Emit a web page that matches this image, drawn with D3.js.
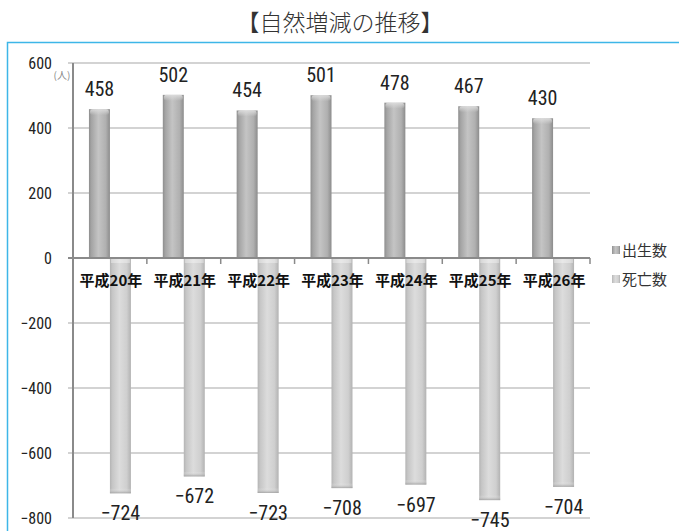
<!DOCTYPE html>
<html><head><meta charset="utf-8">
<script src="https://cdn.jsdelivr.net/npm/d3@7"></script>
<style>body{margin:0;background:#fff}svg{display:block}</style>
</head><body>
<svg id="c" width="679" height="531"></svg>
<script>
const categories = ["平成20年","平成21年","平成22年","平成23年","平成24年","平成25年","平成26年"];
const births = [458,502,454,501,478,467,430];
const deaths = [-724,-672,-723,-708,-697,-745,-704];
const seriesNames = ["出生数","死亡数"];
const yTicks = [600,400,200,0,-200,-400,-600,-800];
const title = "【自然増減の推移】";
const unitLabel = "(人)";

const svg = d3.select("#c");
const numFont = "'Liberation Sans Narrow','Arial Narrow','Roboto Condensed','Liberation Sans',sans-serif";
const jpFont = "'Noto Sans CJK JP','Noto Sans',sans-serif";

const defs = svg.append("defs");
function grad(id, stops){
  const g = defs.append("linearGradient").attr("id", id).attr("x1","0").attr("x2","1").attr("y1","0").attr("y2","0");
  stops.forEach(s => g.append("stop").attr("offset", s[0]).attr("stop-color", s[1]));
}
grad("gb", [[0,"#8e8e8e"],[0.12,"#a4a4a4"],[0.45,"#c4c4c4"],[0.8,"#b0b0b0"],[1,"#8c8c8c"]]);
grad("gd", [[0,"#b4b4b4"],[0.12,"#c6c6c6"],[0.45,"#dcdcdc"],[0.8,"#cfcfcf"],[1,"#b2b2b2"]]);
const vb = defs.append("linearGradient").attr("id","capb").attr("x1","0").attr("x2","0").attr("y1","0").attr("y2","1");
vb.append("stop").attr("offset",0).attr("stop-color","#dedede").attr("stop-opacity",0.9);
vb.append("stop").attr("offset",1).attr("stop-color","#dedede").attr("stop-opacity",0);
const vd = defs.append("linearGradient").attr("id","capd").attr("x1","0").attr("x2","0").attr("y1","0").attr("y2","1");
vd.append("stop").attr("offset",0).attr("stop-color","#ffffff").attr("stop-opacity",0);
vd.append("stop").attr("offset",1).attr("stop-color","#9a9a9a").attr("stop-opacity",0.8);

// frame
svg.append("path").attr("d","M7.5,540 V42.5 H690").attr("fill","none").attr("stroke","#3db6e8").attr("stroke-width",1.5);

// title
svg.append("text").attr("x",340).attr("y",31).attr("text-anchor","middle")
  .attr("font-family",jpFont).attr("font-weight",300).attr("font-size",23).attr("fill","#333").text(title);

const x0 = 73, x1p = 590;
const y = d3.scaleLinear().domain([-800,600]).range([518,63]);
const x = d3.scaleBand().domain(categories).range([x0,x1p]).paddingInner(0).paddingOuter(0);
const xs = d3.scaleBand().domain(seriesNames).range([0,x.bandwidth()]).paddingInner(0).paddingOuter(0.76);

// gridlines
svg.append("g").selectAll("line").data(yTicks.filter(t=>t!==0)).join("line")
  .attr("x1",x0-5).attr("x2",x1p).attr("y1",d=>y(d)).attr("y2",d=>y(d))
  .attr("stroke","#a8a8a8").attr("stroke-width",1.2);

// y axis with labels
const yAxis = d3.axisLeft(y).tickValues(yTicks).tickSize(0).tickPadding(21)
  .tickFormat(d => d < 0 ? "\u2212" + Math.abs(d) : String(d));
const ga = svg.append("g").attr("transform",`translate(${x0},0)`).call(yAxis);
ga.select(".domain").remove();
ga.selectAll("text").attr("font-family",numFont).attr("font-size",16).attr("fill","#222");

svg.append("text").attr("x",62).attr("y",79).attr("text-anchor","middle")
  .attr("font-family",jpFont).attr("font-size",10).attr("fill","#888").text(unitLabel);

// bars
const gb = svg.append("g");
const bw = xs.bandwidth();
categories.forEach((c,i) => {
  const bx = x(c) + xs("出生数");
  const top = y(births[i]);
  gb.append("rect").attr("x",bx).attr("y",top).attr("width",bw).attr("height",y(0)-top).attr("fill","url(#gb)");
  gb.append("rect").attr("x",bx+1).attr("y",top).attr("width",bw-2).attr("height",6).attr("rx",3).attr("fill","url(#capb)");
  const dx = x(c) + xs("死亡数");
  const bot = y(deaths[i]);
  gb.append("rect").attr("x",dx).attr("y",y(0)).attr("width",bw).attr("height",bot-y(0)).attr("fill","url(#gd)");
  gb.append("rect").attr("x",dx).attr("y",bot-5).attr("width",bw).attr("height",5).attr("fill","url(#capd)");
  gb.append("rect").attr("x",dx+1).attr("y",y(0)).attr("width",bw-2).attr("height",5).attr("fill","#ffffff").attr("opacity",0.35);
});

// y axis line and zero line
svg.append("line").attr("x1",x0).attr("x2",x0).attr("y1",y(600)).attr("y2",y(-800)).attr("stroke","#8a8a8a").attr("stroke-width",2);
svg.append("line").attr("x1",x0-5).attr("x2",x1p).attr("y1",y(0)).attr("y2",y(0)).attr("stroke","#8a8a8a").attr("stroke-width",2);
const bounds = categories.map(c=>x(c)).concat([x1p]);
svg.append("g").selectAll("line").data(bounds).join("line")
  .attr("x1",d=>d).attr("x2",d=>d).attr("y1",y(0)).attr("y2",y(0)+6).attr("stroke","#8a8a8a").attr("stroke-width",1.5);

// category labels
svg.append("g").selectAll("text").data(categories).join("text")
  .attr("x",d=>x(d)+x.bandwidth()/2+1).attr("y",y(0)+28).attr("text-anchor","middle")
  .attr("font-family",jpFont).attr("font-weight","bold").attr("font-size",15).attr("fill","#111").text(d=>d);

// value labels
svg.append("g").selectAll("text").data(births).join("text")
  .attr("x",(d,i)=>x(categories[i])+xs("出生数")+bw/2).attr("y",d=>y(d)-13)
  .attr("text-anchor","middle").attr("font-family",numFont).attr("font-size",20).attr("fill","#222").text(d=>d);
svg.append("g").selectAll("text").data(deaths).join("text")
  .attr("x",(d,i)=>x(categories[i])+xs("死亡数")+bw/2).attr("y",d=>y(d)+27)
  .attr("text-anchor","middle").attr("font-family",numFont).attr("font-size",20).attr("fill","#222").text(d=>"\u2212"+Math.abs(d));

// legend
const lg = svg.append("g");
seriesNames.forEach((s,i) => {
  const ly = 250 + i*29;
  lg.append("rect").attr("x",612).attr("y",ly-4).attr("width",8).attr("height",8).attr("fill", i===0 ? "url(#gb)" : "url(#gd)");
  lg.append("text").attr("x",622).attr("y",ly+5.5).attr("font-family",jpFont).attr("font-size",15).attr("fill","#333").text(s);
});
</script>
</body></html>
